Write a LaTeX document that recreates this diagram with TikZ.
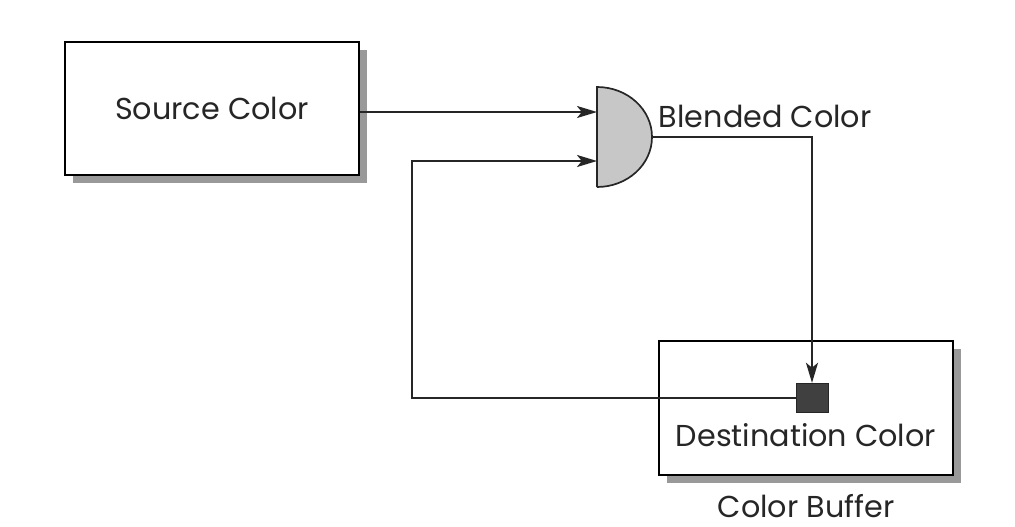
\documentclass[tikz,border=0pt]{standalone}
\usepackage{fontspec}
\setmainfont{Poppins}
\usepackage{tikz}
\usetikzlibrary{arrows.meta, shadows, calc}
\tikzset{buffer box/.style={draw, line width=1.4pt, fill=white, minimum width=7.35cm, minimum height=3.35cm, drop shadow={shadow xshift=0.2cm, shadow yshift=-0.2cm, fill=black!40, opacity=1}}}
\tikzset{wire/.style={line width=1.4pt, draw=black!85}}
\tikzset{flow/.style={wire, -{Stealth[length=5mm, width=3mm, inset=1.2mm]}}}
\tikzset{label text/.style={font=\fontsize{21.5}{25}\selectfont, text=black!85}}

\begin{document}
\begin{tikzpicture}
            \useasboundingbox (0, 0) rectangle (25.375, 13.15);
            \node[buffer box, minimum height=3.325cm] (source) at (5.3, 10.44) {};
            \node[label text] at (source) {Source Color};
            \node[buffer box] (dest) at (20.15, 2.95) {};
            \node[label text, anchor=base] (destlabel) at (20.15, 2.0) {Destination Color};
            \node[label text, anchor=base] (bufferlabel) at (20.15, 0.22) {Color Buffer};
            \node[draw=black!85, fill=black!75, minimum width=0.8cm, minimum height=0.725cm, inner sep=0pt] (pixel) at (20.3, 3.21) {};
            % blending unit
            \coordinate (blendtop) at (14.925, 10.975);
            \coordinate (blendbot) at (14.925, 8.475);
            \coordinate (blendout) at (16.3, 9.725);
            \coordinate (blendin1) at (14.925, 10.35);
            \coordinate (blendin2) at (14.925, 9.125);
            \draw[wire, line width=1.2pt, fill=black!22] (blendbot) -- (blendtop) arc[start angle=90, end angle=-90, x radius=1.375cm, y radius=1.25cm];
            \node[label text, anchor=west] (blendlabel) at (16.35, 10.25) {Blended Color};
            \draw[flow] (source.east |- blendin1) -- (blendin1);
            \draw[flow] (blendout) -| (pixel.north);
            \draw[flow] (pixel.west) -- (10.3, 3.21) |- (blendin2);
        \end{tikzpicture}
\end{document}
